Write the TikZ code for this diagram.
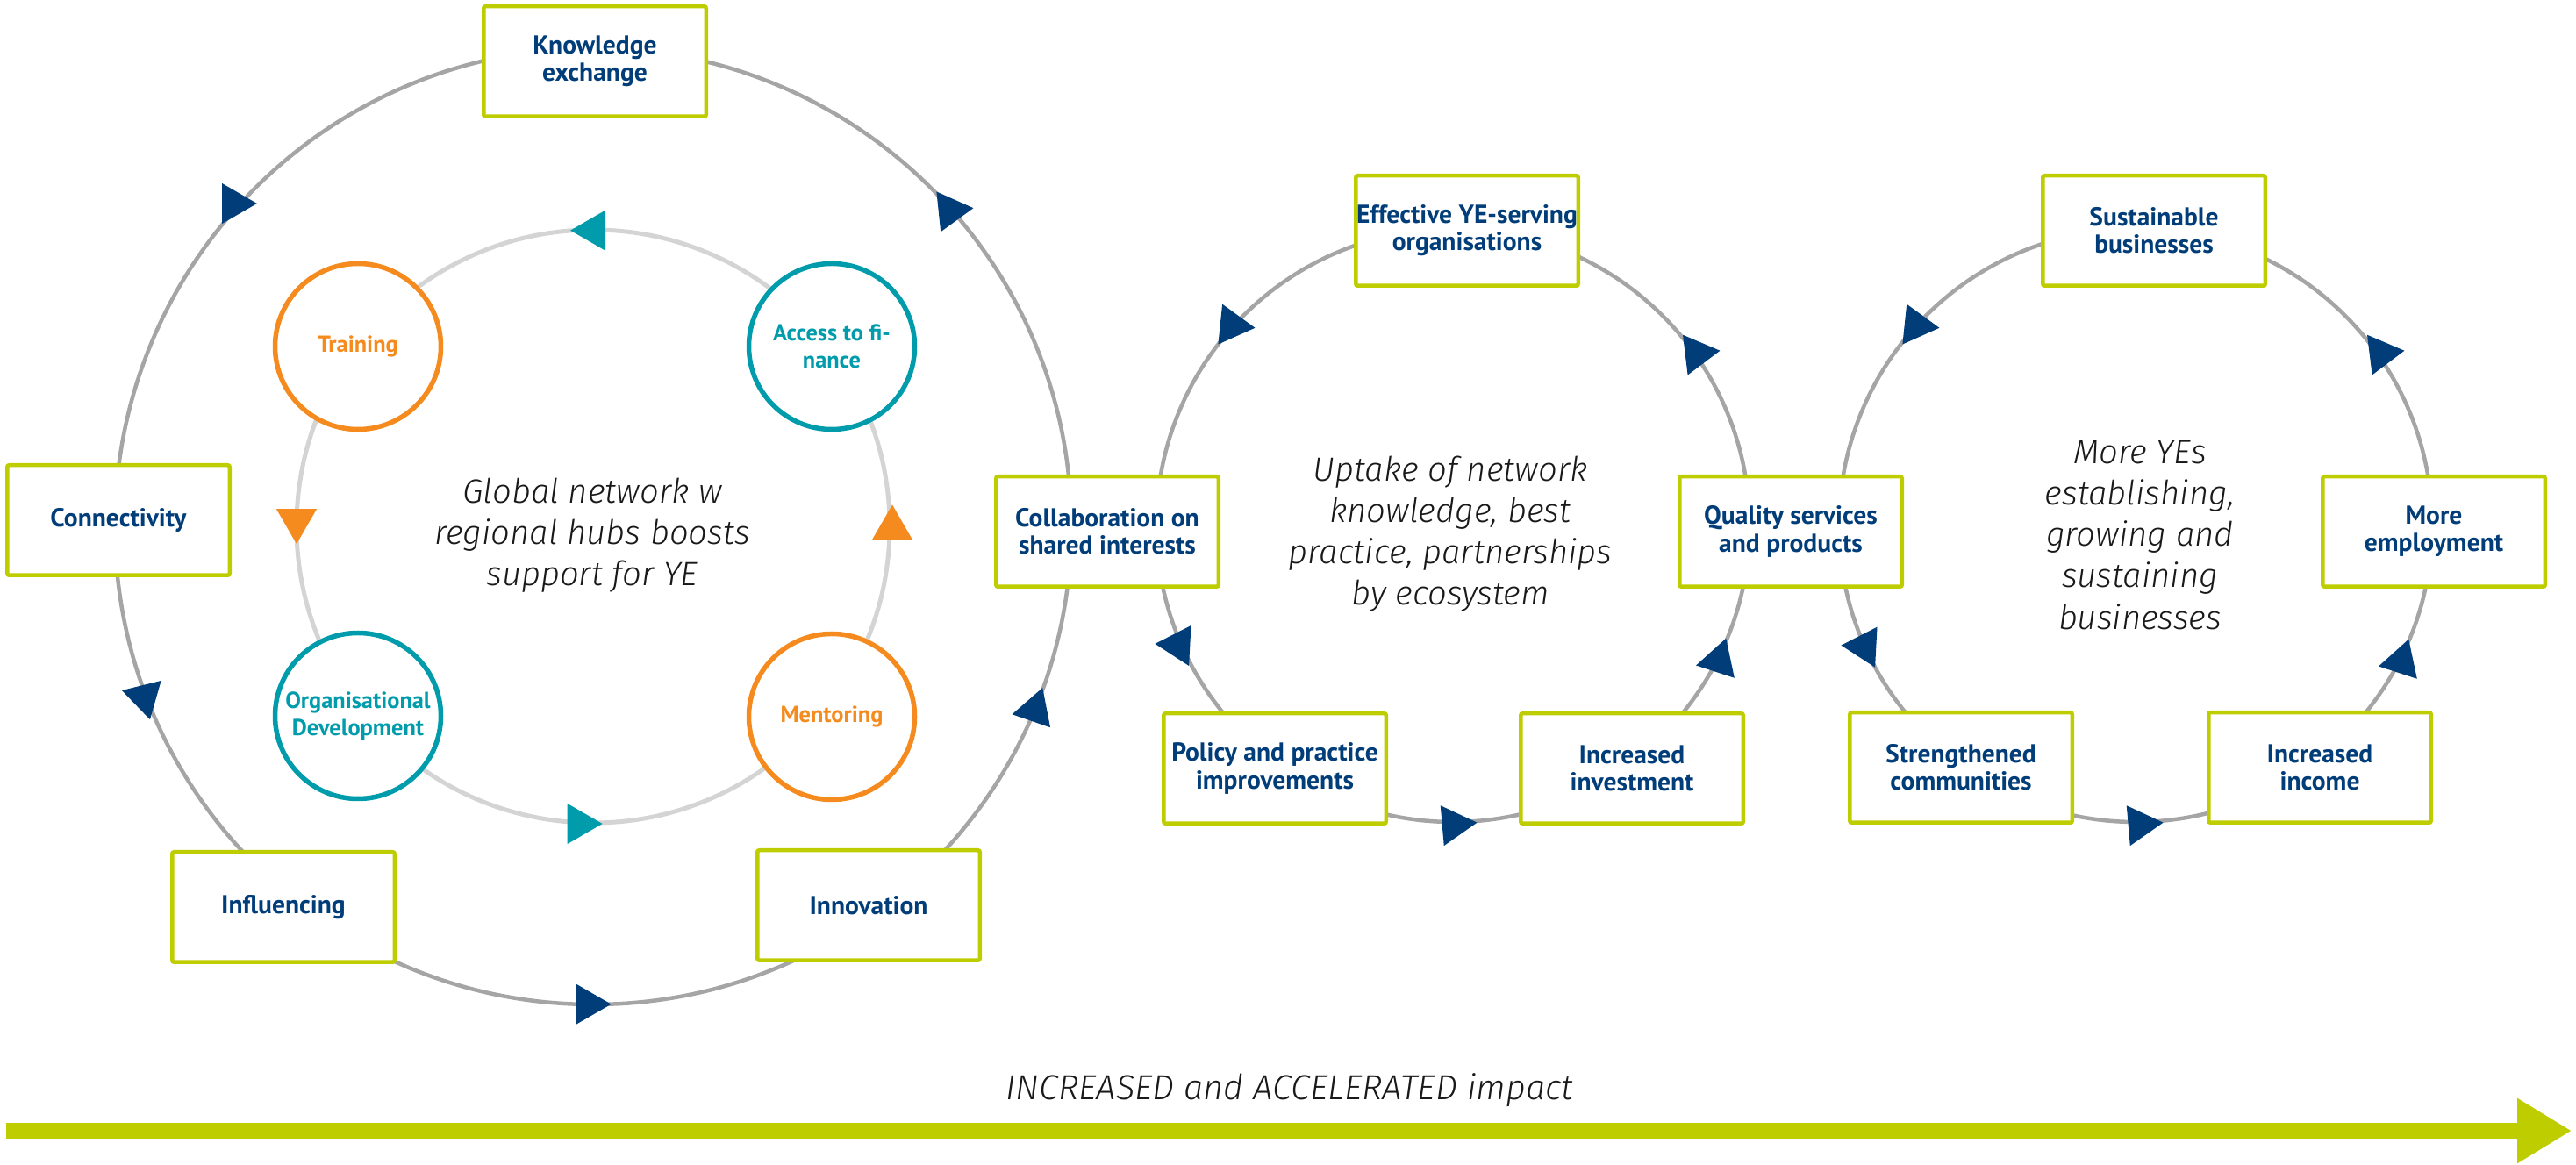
\documentclass[tikz,border=0pt]{standalone}
\usepackage{fontspec}
\setmainfont{PT Sans}
\IfFontExistsTF{Fira Sans Light}{\newfontfamily\noteFont{Fira Sans Light}}{\newfontfamily\noteFont{Fira Sans}}
\usepackage{tikz}
\usetikzlibrary{arrows.meta,calc,positioning}
\definecolor{cycNavy}{RGB}{0,61,121}
\definecolor{cycLime}{RGB}{190,205,0}
\definecolor{cycTeal}{RGB}{0,156,172}
\definecolor{cycOrange}{RGB}{245,139,30}
\definecolor{cycGray}{RGB}{165,165,165}
\definecolor{cycPale}{RGB}{212,212,212}
\definecolor{cycInk}{RGB}{25,25,25}
\definecolor{cycWhite}{RGB}{255,255,255}
\tikzset{
  cycbox/.style={draw=cycLime,line width=0.045cm,fill=cycWhite,rounded corners=0.6pt,minimum width=2.535cm,minimum height=1.255cm,inner sep=0pt,text=cycNavy,align=center,font=\bfseries\fontsize{8.4}{8.9}\selectfont},
  cycdisc/.style={circle,line width=0.055cm,fill=cycWhite,minimum size=1.89cm,inner sep=0pt,align=center,font=\bfseries\fontsize{7.5}{8.8}\selectfont},
  cycring/.style={draw=cycGray,line width=0.045cm},
  cycinner/.style={draw=cycPale,line width=0.05cm},
  cycnote/.style={font=\noteFont\itshape\fontsize{10.9}{13.4}\selectfont,text=cycInk,align=center},
  cycimpact/.style={draw=cycLime,line width=0.18cm,-{Triangle[length=0.62cm,width=0.70cm]}},
}
\newcommand{\RingTip}[4]{% colour, x, y, rotation
  \fill[#1,shift={(#2,#3)},rotate=#4] (0:0.266) -- (120:0.266) -- (240:0.266) -- cycle;%
}

\begin{document}
\begin{tikzpicture}[x=1cm,y=1cm]
\useasboundingbox (0,0) rectangle (29.36,13.28);

% Rings.
\coordinate (ringA) at (6.76,7.28);
\coordinate (ringB) at (16.56,7.29);
\coordinate (ringC) at (24.34,7.29);
\draw[cycring] (ringA) circle (5.45);
\draw[cycinner] (ringA) circle (3.38);
\draw[cycring] (ringB) circle (3.38);
\draw[cycring] (ringC) circle (3.38);

% Ring A: network support.
\node[cycbox] (knowledge) at (6.78,12.58) {Knowledge\\exchange};
\node[cycbox] (connect) at (1.35,7.35) {Connectivity};
\node[cycbox] (influence) at (3.23,2.94) {Influencing};
\node[cycbox] (innovate) at (9.90,2.96) {Innovation};
\node[cycbox] (collab) at (12.62,7.22) {Collaboration on\\shared interests};
\node[cycdisc,draw=cycOrange,text=cycOrange] (training) at (4.08,9.33) {Training};
\node[cycdisc,draw=cycTeal,text=cycTeal] (finance) at (9.48,9.33) {Access to fi-\\nance};
\node[cycdisc,draw=cycTeal,text=cycTeal] (orgdev) at (4.08,5.12) {Organisational\\Development};
\node[cycdisc,draw=cycOrange,text=cycOrange] (mentor) at (9.48,5.11) {Mentoring};
\node[cycnote] (hubs) at (6.75,7.18) {Global network w\\regional hubs boosts\\support for YE};

\RingTip{cycNavy}{2.663}{10.96}{0}
\RingTip{cycNavy}{10.83}{10.88}{6}
\RingTip{cycNavy}{1.645}{5.336}{44}
\RingTip{cycNavy}{6.70}{1.833}{0}
\RingTip{cycNavy}{11.796}{5.188}{71}
\RingTip{cycTeal}{6.767}{10.653}{60}
\RingTip{cycOrange}{3.38}{7.345}{30}
\RingTip{cycTeal}{6.60}{3.89}{0}
\RingTip{cycOrange}{10.17}{7.26}{90}

% Ring B: ecosystem uptake.
\node[cycbox] (effective) at (16.72,10.65) {Effective YE-serving\\organisations};
\node[cycbox] (quality) at (20.41,7.22) {Quality services\\and products};
\node[cycbox] (policy) at (14.53,4.52) {Policy and practice\\improvements};
\node[cycbox] (investment) at (18.60,4.52) {Increased\\investment};
\node[cycnote] (uptake) at (16.53,7.19) {Uptake of network\\knowledge, best\\practice, partnerships\\by ecosystem};

\RingTip{cycNavy}{14.04}{9.57}{-6}
\RingTip{cycNavy}{19.34}{9.25}{7}
\RingTip{cycNavy}{13.43}{5.927}{57}
\RingTip{cycNavy}{16.57}{3.88}{5}
\RingTip{cycNavy}{19.59}{5.75}{72}

% Ring C: businesses.
\node[cycbox] (sustain) at (24.55,10.65) {Sustainable\\businesses};
\node[cycbox] (employ) at (27.74,7.22) {More\\employment};
\node[cycbox] (commune) at (22.35,4.53) {Strengthened\\communities};
\node[cycbox] (income) at (26.44,4.53) {Increased\\income};
\node[cycnote] (moreye) at (24.39,7.18) {More YEs\\establishing,\\growing and\\sustaining\\businesses};

\RingTip{cycNavy}{21.84}{9.57}{-6}
\RingTip{cycNavy}{27.14}{9.25}{7}
\RingTip{cycNavy}{21.25}{5.91}{57}
\RingTip{cycNavy}{24.39}{3.88}{5}
\RingTip{cycNavy}{27.37}{5.74}{72}

% Impact arrow.
\coordinate (impStart) at (0.07,0.39);
\coordinate (impEnd) at (29.31,0.39);
\draw[cycimpact] (impStart) -- (impEnd);
\node[cycnote,anchor=base,font=\noteFont\itshape\fontsize{11.3}{13.4}\selectfont] (impact) at (14.70,0.74) {INCREASED and ACCELERATED impact};
\end{tikzpicture}
\end{document}
